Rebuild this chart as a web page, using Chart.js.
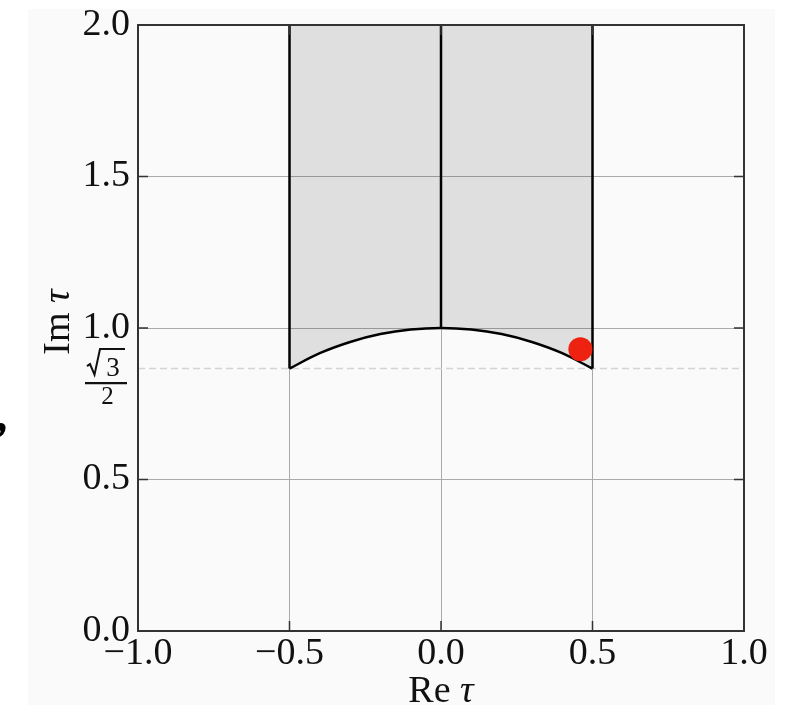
<!DOCTYPE html>
<html>
<head>
<meta charset="utf-8">
<script src="https://cdn.jsdelivr.net/npm/chart.js@4"></script>
<style>
  html, body { margin: 0; padding: 0; background: #ffffff; }
  #wrap { width: 787px; height: 705px; }
</style>
</head>
<body>
<div id="wrap"><canvas id="c" width="787" height="705"></canvas></div>
<script>
// ---- data ----
const arcRe = [-0.5, -0.4, -0.3, -0.2, -0.1, 0.0, 0.1, 0.2, 0.3, 0.4, 0.5];
const arcIm = [0.866, 0.917, 0.954, 0.980, 0.995, 1.0, 0.995, 0.980, 0.954, 0.917, 0.866];
const domainTop = 2.0;
const leftEdgeRe = -0.5;
const rightEdgeRe = 0.5;
const midRe = 0.0;
const midBottomIm = 1.0;
const sqrt3Half = 0.866;
const pointRe = [0.46];
const pointIm = [0.93];
const xTickValues = [-1.0, -0.5, 0.0, 0.5, 1.0];
const yTickValues = [0.0, 0.5, 1.0, 1.5, 2.0];
const xTickLabels = ['\u22121.0', '\u22120.5', '0.0', '0.5', '1.0'];
const yTickLabels = ['0.0', '0.5', '1.0', '1.5', '2.0'];
const xTitleMain = 'Re ';
const yTitleMain = 'Im ';
const titleGreek = '\u03C4';
const fracNum = '3';
const fracDen = '2';
const strayMark = ',';

const SERIF = '"Liberation Serif", "DejaVu Serif", serif';

const arcData = arcRe.map((x, i) => ({ x: x, y: arcIm[i] }));
const ptData = pointRe.map((x, i) => ({ x: x, y: pointIm[i] }));

const bgPlugin = {
  id: 'bg',
  beforeDraw(chart) {
    const ctx = chart.ctx;
    ctx.save();
    ctx.fillStyle = '#ffffff';
    ctx.fillRect(0, 0, chart.width, chart.height);
    ctx.fillStyle = '#fafafa';
    ctx.fillRect(28, 9, 747, chart.height - 9);
    ctx.fillStyle = '#000000';
    ctx.font = 'bold 50px ' + SERIF;
    ctx.textBaseline = 'alphabetic';
    ctx.textAlign = 'left';
    ctx.fillText(strayMark, -5, 430);
    ctx.restore();
  }
};

const framePlugin = {
  id: 'frame',
  afterDraw(chart) {
    const ctx = chart.ctx;
    const a = chart.chartArea;
    const xs = chart.scales.x, ys = chart.scales.y;
    ctx.save();
    ctx.strokeStyle = '#333333';
    ctx.lineWidth = 1.5;
    const L = 10;
    xTickValues.forEach(v => {
      const px = xs.getPixelForValue(v);
      ctx.beginPath();
      ctx.moveTo(px, a.bottom); ctx.lineTo(px, a.bottom - L);
      ctx.moveTo(px, a.top); ctx.lineTo(px, a.top + L);
      ctx.stroke();
    });
    yTickValues.forEach(v => {
      const py = ys.getPixelForValue(v);
      ctx.beginPath();
      ctx.moveTo(a.left, py); ctx.lineTo(a.left + L, py);
      ctx.moveTo(a.right, py); ctx.lineTo(a.right - L, py);
      ctx.stroke();
    });
    ctx.strokeStyle = '#333333';
    ctx.lineWidth = 2;
    ctx.strokeRect(a.left, a.top, a.right - a.left, a.bottom - a.top);

    // sqrt(3)/2 label
    const base = ys.getPixelForValue(sqrt3Half);
    ctx.strokeStyle = '#111111';
    ctx.fillStyle = '#111111';
    ctx.lineWidth = 2;
    ctx.beginPath();
    ctx.moveTo(87, base - 2.5);
    ctx.lineTo(90, base - 4.5);
    ctx.lineTo(94.5, base + 6);
    ctx.lineTo(100, base - 19.5);
    ctx.lineTo(125, base - 19.5);
    ctx.stroke();
    ctx.font = '27px ' + SERIF;
    ctx.textAlign = 'center';
    ctx.textBaseline = 'alphabetic';
    ctx.fillText(fracNum, 113, base + 7);
    ctx.lineWidth = 2.2;
    ctx.beginPath();
    ctx.moveTo(85, base + 14.5);
    ctx.lineTo(127, base + 14.5);
    ctx.stroke();
    ctx.font = '25px ' + SERIF;
    ctx.fillText(fracDen, 107.5, base + 35);

    // axis titles
    ctx.fillStyle = '#111111';
    const fN = '38px ' + SERIF, fI = 'italic 38px ' + SERIF;
    ctx.textAlign = 'left';
    ctx.font = fN; const w1 = ctx.measureText(xTitleMain).width;
    ctx.font = fI; const w2 = ctx.measureText(titleGreek).width;
    const cx = (a.left + a.right) / 2;
    let sx = cx - (w1 + w2) / 2;
    ctx.font = fN; ctx.fillText(xTitleMain, sx, 702);
    ctx.font = fI; ctx.fillText(titleGreek, sx + w1, 702);

    ctx.font = fN; const w3 = ctx.measureText(yTitleMain).width;
    ctx.font = fI; const w4 = ctx.measureText(titleGreek).width;
    ctx.translate(69, 322);
    ctx.rotate(-Math.PI / 2);
    sx = -(w3 + w4) / 2;
    ctx.font = fN; ctx.fillText(yTitleMain, sx, 0);
    ctx.font = fI; ctx.fillText(titleGreek, sx + w3, 0);
    ctx.restore();
  }
};

const lineStyle = {
  showLine: true, borderColor: '#000000', borderWidth: 2.5,
  pointRadius: 0, pointHoverRadius: 0, fill: false, tension: 0
};

new Chart(document.getElementById('c'), {
  type: 'scatter',
  data: {
    datasets: [
      {
        data: ptData, pointRadius: 12, pointHoverRadius: 12,
        backgroundColor: '#ee2211', borderColor: '#ee2211', borderWidth: 0,
        showLine: false, order: 0
      },
      Object.assign({}, lineStyle, {
        data: [{ x: leftEdgeRe, y: sqrt3Half }, { x: leftEdgeRe, y: domainTop }], order: 1
      }),
      Object.assign({}, lineStyle, {
        data: [{ x: rightEdgeRe, y: sqrt3Half }, { x: rightEdgeRe, y: domainTop }], order: 1
      }),
      Object.assign({}, lineStyle, {
        data: [{ x: midRe, y: midBottomIm }, { x: midRe, y: domainTop }], order: 1
      }),
      Object.assign({}, lineStyle, {
        data: arcData, tension: 0.4, fill: 'end',
        backgroundColor: 'rgba(0,0,0,0.105)', order: 2
      }),
      {
        data: [{ x: xTickValues[0], y: sqrt3Half }, { x: xTickValues[xTickValues.length - 1], y: sqrt3Half }],
        showLine: true, borderColor: '#d4d4d4', borderWidth: 1.5, borderDash: [7, 4],
        pointRadius: 0, pointHoverRadius: 0, fill: false, order: 3
      }
    ]
  },
  options: {
    responsive: false,
    animation: false,
    events: [],
    layout: { padding: { left: 0, top: 25, right: 43, bottom: 0 } },
    plugins: { legend: { display: false }, tooltip: { enabled: false }, title: { display: false } },
    scales: {
      x: {
        type: 'linear', min: -1, max: 1,
        afterFit(s) { s.height = 74; s.paddingLeft = 0; s.paddingRight = 0; },
        afterBuildTicks(s) { s.ticks = xTickValues.map(v => ({ value: v })); },
        grid: { color: '#aaaaaa', lineWidth: 1, drawTicks: false },
        border: { display: false },
        ticks: {
          padding: 0, maxRotation: 0, autoSkip: false, color: '#111111',
          font: { family: SERIF, size: 38 },
          callback(v) { const i = xTickValues.indexOf(v); return i >= 0 ? xTickLabels[i] : ''; }
        }
      },
      y: {
        type: 'linear', min: 0, max: 2,
        afterFit(s) { s.width = 138; s.paddingTop = 0; s.paddingBottom = 0; },
        afterBuildTicks(s) { s.ticks = yTickValues.map(v => ({ value: v })); },
        grid: { color: '#aaaaaa', lineWidth: 1, drawTicks: false },
        border: { display: false },
        ticks: {
          padding: 8, autoSkip: false, color: '#111111',
          font: { family: SERIF, size: 38 },
          callback(v) { const i = yTickValues.indexOf(v); return i >= 0 ? yTickLabels[i] : ''; }
        }
      }
    }
  },
  plugins: [bgPlugin, framePlugin]
});
</script>
</body>
</html>
